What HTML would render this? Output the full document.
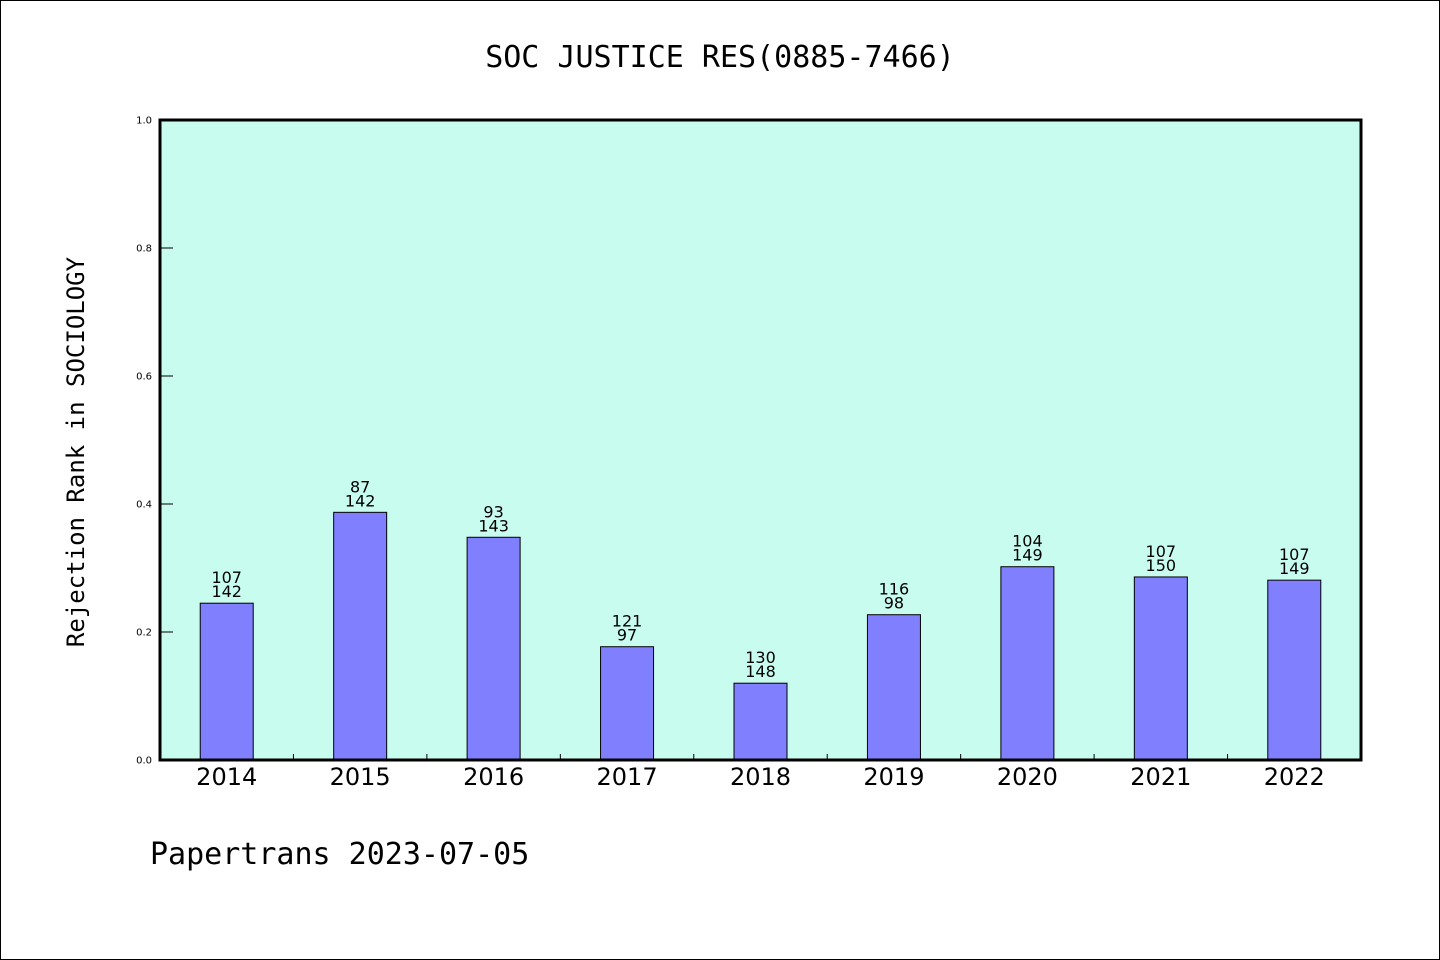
<!DOCTYPE html>
<html><head><meta charset="utf-8"><style>
body{margin:0;background:#fff}
svg{display:block}
text{font-family:"DejaVu Sans","Liberation Sans",sans-serif}
</style></head><body>
<svg id="chart" width="1440" height="960">
<rect x="0.5" y="0.5" width="1439" height="959" fill="#fff" stroke="#000"/>
<text x="720" y="67" text-anchor="middle" font-size="30" style="font-family:'DejaVu Sans Mono','Liberation Mono',monospace">SOC JUSTICE RES(0885-7466)</text>
<rect x="160" y="120" width="1201" height="640" fill="#c8fcee"/>
<g id="marks"></g>
<rect x="160" y="120" width="1201" height="640" fill="none" stroke="#000" stroke-width="3"/>
<text transform="translate(84,452) rotate(-90)" text-anchor="middle" font-size="24" style="font-family:'DejaVu Sans Mono','Liberation Mono',monospace">Rejection Rank in SOCIOLOGY</text>
<text x="150" y="864" font-size="30" style="font-family:'DejaVu Sans Mono','Liberation Mono',monospace">Papertrans 2023-07-05</text>
</svg>
<script>
const categories=["2014","2015","2016","2017","2018","2019","2020","2021","2022"];
const values=[0.245,0.387,0.348,0.177,0.120,0.227,0.302,0.286,0.281];
const ranks=[107,87,93,121,130,116,104,107,107];
const totals=[142,142,143,97,148,98,149,150,149];
const yTicks=[0,0.2,0.4,0.6,0.8,1.0];
const NS="http://www.w3.org/2000/svg";
const g=document.getElementById("marks");
const x0=160,x1=1361,y0=760,y1=120;
const slot=(x1-x0)/categories.length;
function xs(i){return x0+slot*(i+0.5);}
function ys(v){return y0-(y0-y1)*v;}
function mk(t,a){const e=document.createElementNS(NS,t);for(const k in a)e.setAttribute(k,a[k]);g.appendChild(e);return e;}
yTicks.forEach(v=>{
 const l=mk("line",{x1:160,x2:173,y1:ys(v),y2:ys(v),stroke:"#000","stroke-width":1});
 
 
 const t=mk("text",{x:152,y:ys(v)+3.5,"text-anchor":"end","font-size":10});
 t.textContent=v.toFixed(1);
 
 
});
for(let i=1;i<categories.length;i++){
 const xx=x0+slot*i;
 const l=mk("line",{x1:xx,x2:xx,y1:760,y2:754,stroke:"#000","stroke-width":1});
 
 
}
const bw=53;
categories.forEach((c,i)=>{
 const v=values[i];
 const cx=xs(i);
 const b=mk("rect",{x:cx-bw/2,y:ys(v),width:bw,height:y0-ys(v),fill:"#8080ff",stroke:"#000","stroke-width":1});
 
 
 const t1=mk("text",{x:cx,y:ys(v)-20,"text-anchor":"middle","font-size":16});
 t1.textContent=ranks[i];
 
 
 const t2=mk("text",{x:cx,y:ys(v)-6,"text-anchor":"middle","font-size":16});
 t2.textContent=totals[i];
 
 
 const xl=mk("text",{x:cx,y:785,"text-anchor":"middle","font-size":24});
 xl.textContent=c;
 
 
});
</script>
</body></html>
